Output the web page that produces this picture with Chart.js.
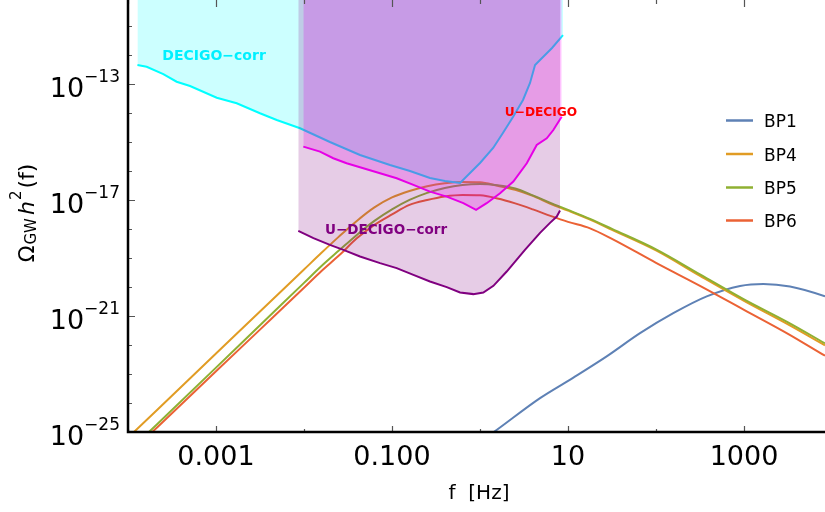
<!DOCTYPE html>
<html>
<head>
<meta charset="utf-8">
<script src="https://cdn.jsdelivr.net/npm/chart.js@4.4.0/dist/chart.umd.min.js"></script>
<style>
  html, body { margin: 0; padding: 0; background: #fff; }
  #wrap { width: 825px; height: 512px; }
</style>
</head>
<body>
<div id="wrap"><canvas id="gw" width="825" height="512"></canvas></div>
<script>
// values (f in Hz, Omega_GW h^2)
const bpFreq = [1e-4, 1e-3, 3.16e-3, 1e-2, 1.58e-2, 2.51e-2, 3.98e-2, 6.31e-2, 0.1, 0.158, 0.251, 0.398, 0.631,
  1.0, 1.58, 2.51, 3.98, 6.31, 10, 17.8, 31.6, 100, 316, 1000, 3160, 8320, 10000];
const bp4Omega = [6.36e-26, 5.09e-23, 1.44e-21, 4.05e-20, 1.53e-19, 5.65e-19, 1.93e-18, 5.65e-18, 1.25e-17, 2.09e-17, 3.04e-17, 3.85e-17, 4.28e-17,
  4.18e-17, 3.16e-17, 2.30e-17, 1.41e-17, 7.52e-18, 4.38e-18, 2.14e-18, 9.53e-19, 1.86e-19, 2.45e-20, 3.37e-21, 5.21e-22, 9.84e-23, 7.16e-23];
const bp5Omega = [2.03e-26, 1.67e-23, 4.85e-22, 1.40e-20, 5.35e-20, 1.86e-19, 6.35e-19, 1.93e-18, 4.82e-18, 1.02e-17, 1.79e-17, 2.65e-17, 3.37e-17,
  3.65e-17, 3.29e-17, 2.55e-17, 1.47e-17, 8.07e-18, 4.63e-18, 2.26e-18, 1.02e-18, 2.01e-19, 2.76e-20, 3.79e-21, 6.11e-22, 1.15e-22, 8.39e-23];
const bp6Omega = [1.60e-26, 1.24e-23, 3.42e-22, 9.53e-21, 3.62e-20, 1.25e-19, 4.82e-19, 1.41e-18, 3.24e-18, 6.89e-18, 1.02e-17, 1.35e-17, 1.52e-17,
  1.47e-17, 1.15e-17, 7.76e-18, 4.82e-18, 2.88e-18, 1.79e-18, 1.07e-18, 4.63e-19, 6.89e-20, 1.11e-20, 1.65e-21, 2.45e-22, 4.28e-23, 3.11e-23];

const bp1Freq = [0.631, 1.42, 4.81, 11.4, 27.5, 65.8, 157, 377, 902, 1660, 3330, 8320, 10000];
const bp1Omega = [1.78e-26, 9.77e-26, 1.48e-24, 7.41e-24, 4.07e-23, 2.57e-22, 1.26e-21, 4.79e-21, 1.10e-20, 1.29e-20, 1.05e-20, 4.79e-21, 3.80e-21];

const decigoCorrFreq = [1.28e-4, 1.63e-4, 2.52e-4, 3.57e-4, 5.07e-4, 1.02e-3, 1.72e-3, 3.16e-3, 4.90e-3, 9.02e-3, 1.97e-2, 4.33e-2,
  9.48e-2, 0.160, 0.270, 0.400, 0.593, 1.0, 1.41, 1.82, 2.37, 3.08, 3.70, 4.22, 5.20, 6.58, 8.77];
const decigoCorrOmega = [4.63e-13, 4.05e-13, 2.26e-13, 1.23e-13, 8.73e-14, 3.45e-14, 2.21e-14, 1.0e-14, 5.87e-15, 3.04e-15, 1.02e-15, 3.65e-16,
  1.65e-16, 1.02e-16, 5.87e-17, 4.63e-17, 3.95e-17, 1.93e-16, 6.35e-16, 2.09e-15, 7.45e-15, 2.88e-14, 1.11e-13, 4.63e-13, 8.73e-13, 1.79e-12, 5.01e-12];

const uDecigoFreq = [9.82e-3, 1.52e-2, 2.15e-2, 3.05e-2, 4.72e-2, 7.31e-2, 0.113, 0.175, 0.270, 0.419, 0.646, 0.902,
  1.19, 1.69, 2.39, 3.40, 4.41, 5.73, 6.81, 8.47];
const uDecigoOmega = [7.05e-16, 4.74e-16, 2.81e-16, 1.89e-16, 1.27e-16, 8.53e-17, 5.74e-17, 3.37e-17, 1.98e-17, 1.33e-17, 7.89e-18, 4.63e-18,
  7.89e-18, 1.74e-17, 4.38e-17, 1.89e-16, 8.07e-16, 1.37e-15, 2.65e-15, 7.64e-15];

const uDecigoCorrFreq = [8.61e-3, 1.28e-2, 1.97e-2, 2.80e-2, 4.33e-2, 7.31e-2, 0.113, 0.175, 0.270, 0.419, 0.593, 0.839,
  1.09, 1.42, 2.01, 3.24, 4.81, 6.24, 7.45, 8.11];
const uDecigoCorrOmega = [8.73e-19, 4.90e-19, 2.88e-19, 1.93e-19, 1.14e-19, 6.73e-20, 4.52e-20, 2.65e-20, 1.56e-20, 1.0e-20, 6.52e-21, 5.74e-21,
  6.52e-21, 1.11e-20, 3.45e-20, 1.93e-19, 7.45e-19, 1.65e-18, 2.72e-18, 4.38e-18];

const xTicks = [1e-4, 1e-3, 1e-2, 1e-1, 1, 10, 100, 1000];
const xTickLabels = ['', '0.001', '', '0.100', '', '10', '', '1000'];
const yTickExps = [-25, -24, -23, -22, -21, -20, -19, -18, -17, -16, -15, -14, -13, -12, -11];
const yLabelExps = [-25, -21, -17, -13];

const seriesNames = ['BP1', 'BP4', 'BP5', 'BP6'];
const seriesColors = ['#5E81B5', '#E19C24', '#8FB032', '#EB6235'];

// region labels, anchored in data coordinates
const regionNotes = [
  { text: 'DECIGO\u2212corr', f: 9.5e-4, omega: 9.5e-13, color: '#00F0FF', size: 14 },
  { text: 'U\u2212DECIGO', f: 4.93, omega: 1.02e-14, color: '#FF0000', size: 12.2 },
  { text: 'U\u2212DECIGO\u2212corr', f: 8.55e-2, omega: 9.3e-19, color: '#800080', size: 13.5 }
];

const FONT = '"DejaVu Sans", sans-serif';

function pts(xs, ys) {
  return xs.map((x, i) => ({ x: x, y: ys[i] }));
}

function fillSet(xs, ys, color) {
  return { data: pts(xs, ys), borderWidth: 0, pointRadius: 0, fill: 'end', backgroundColor: color, tension: 0 };
}
function lineSet(xs, ys, color, smooth) {
  return {
    data: pts(xs, ys), borderColor: color, borderWidth: 2, pointRadius: 0, fill: false,
    cubicInterpolationMode: smooth ? 'monotone' : 'default', tension: 0
  };
}

// first dataset is drawn on top: fills above every curve
const datasets = [
  fillSet(uDecigoCorrFreq, uDecigoCorrOmega, 'rgba(128,0,128,0.2)'),
  fillSet(uDecigoFreq, uDecigoOmega, 'rgba(255,0,255,0.24)'),
  fillSet(decigoCorrFreq, decigoCorrOmega, 'rgba(0,255,255,0.2)'),
  lineSet(uDecigoCorrFreq, uDecigoCorrOmega, '#800080', false),
  lineSet(uDecigoFreq, uDecigoOmega, '#FF00FF', false),
  lineSet(decigoCorrFreq, decigoCorrOmega, '#00FFFF', false),
  lineSet(bpFreq, bp5Omega, seriesColors[2], true),
  lineSet(bpFreq, bp4Omega, seriesColors[1], true),
  lineSet(bpFreq, bp6Omega, seriesColors[3], true),
  lineSet(bp1Freq, bp1Omega, seriesColors[0], true)
];

const notesPlugin = {
  id: 'notes',
  afterDatasetsDraw(chart) {
    const { ctx, scales: { x, y } } = chart;
    ctx.save();
    ctx.textAlign = 'center';
    ctx.textBaseline = 'middle';
    regionNotes.forEach(n => {
      ctx.font = 'bold ' + n.size + 'px ' + FONT;
      ctx.fillStyle = n.color;
      ctx.fillText(n.text, x.getPixelForValue(n.f), y.getPixelForValue(n.omega));
    });
    ctx.restore();
  }
};

const framePlugin = {
  id: 'frame',
  afterDraw(chart) {
    const { ctx, chartArea: a, scales: { x, y } } = chart;
    ctx.save();
    // inward ticks
    ctx.strokeStyle = '#555';
    ctx.lineWidth = 1.2;
    ctx.beginPath();
    xTicks.forEach((v, i) => {
      const px = Math.round(x.getPixelForValue(v)) + 0.5;
      const len = xTickLabels[i] ? 6 : 3;
      ctx.moveTo(px, a.bottom); ctx.lineTo(px, a.bottom - len);
      ctx.moveTo(px, a.top); ctx.lineTo(px, a.top + len + 1);
    });
    yTickExps.forEach(e => {
      const py = Math.round(y.getPixelForValue(Math.pow(10, e))) + 0.5;
      const len = yLabelExps.includes(e) ? 7 : 4;
      ctx.moveTo(a.left, py); ctx.lineTo(a.left + len, py);
    });
    ctx.stroke();

    // spines
    ctx.strokeStyle = '#000';
    ctx.lineWidth = 2.5;
    ctx.beginPath();
    ctx.moveTo(a.left, a.top);
    ctx.lineTo(a.left, a.bottom);
    ctx.lineTo(a.right, a.bottom);
    ctx.stroke();

    // x tick labels
    ctx.fillStyle = '#000';
    ctx.font = '27px ' + FONT;
    ctx.textAlign = 'center';
    ctx.textBaseline = 'alphabetic';
    xTicks.forEach((v, i) => {
      if (xTickLabels[i]) ctx.fillText(xTickLabels[i], x.getPixelForValue(v), a.bottom + 33);
    });

    // y tick labels 10^n
    yLabelExps.forEach(e => {
      const py = y.getPixelForValue(Math.pow(10, e));
      const expText = '\u2212' + Math.abs(e);
      ctx.font = '17px ' + FONT;
      ctx.textAlign = 'right';
      ctx.fillText(expText, a.left - 8, py - 2);
      const w = ctx.measureText(expText).width;
      ctx.font = '27px ' + FONT;
      ctx.fillText('10', a.left - 8 - w, py + 12.5);
    });

    // x axis title
    ctx.font = '20px ' + FONT;
    ctx.textAlign = 'center';
    ctx.fillText('f  [Hz]', 479, 499);

    // y axis title, rotated
    ctx.save();
    ctx.translate(34, 213);
    ctx.rotate(-Math.PI / 2);
    const parts = [
      { t: '\u03A9', f: '22px ' + FONT, dy: 0, gap: 0 },
      { t: 'GW', f: '15px ' + FONT, dy: 2, gap: 1 },
      { t: 'h', f: 'italic 22px ' + FONT, dy: 0, gap: 3 },
      { t: '2', f: '15px ' + FONT, dy: -13, gap: 1 },
      { t: '(f)', f: '22px ' + FONT, dy: 0, gap: 2 }
    ];
    let total = 0;
    parts.forEach(p => { ctx.font = p.f; p.w = ctx.measureText(p.t).width; total += p.w + p.gap; });
    let cx = -total / 2;
    ctx.textAlign = 'left';
    parts.forEach(p => {
      cx += p.gap;
      ctx.font = p.f;
      ctx.fillText(p.t, cx, p.dy);
      cx += p.w;
    });
    ctx.restore();

    // legend
    const legendY = [120.5, 154, 187.5, 220.5];
    ctx.font = '17px ' + FONT;
    ctx.textAlign = 'left';
    seriesNames.forEach((name, i) => {
      ctx.strokeStyle = seriesColors[i];
      ctx.lineWidth = 2.5;
      ctx.beginPath();
      ctx.moveTo(726, legendY[i]);
      ctx.lineTo(753, legendY[i]);
      ctx.stroke();
      ctx.fillStyle = '#000';
      ctx.fillText(name, 764, legendY[i] + 6.5);
    });
    ctx.restore();
  }
};

new Chart(document.getElementById('gw'), {
  type: 'line',
  data: { datasets: datasets },
  options: {
    responsive: false,
    animation: false,
    devicePixelRatio: 1,
    layout: { padding: { left: 128, top: 0, right: 0, bottom: 80 } },
    scales: {
      x: { type: 'logarithmic', min: 1e-4, max: 8320, display: false },
      y: { type: 'logarithmic', min: 1e-25, max: 8.13e-11, display: false }
    },
    plugins: { legend: { display: false }, tooltip: { enabled: false } }
  },
  plugins: [notesPlugin, framePlugin]
});
</script>
</body>
</html>
